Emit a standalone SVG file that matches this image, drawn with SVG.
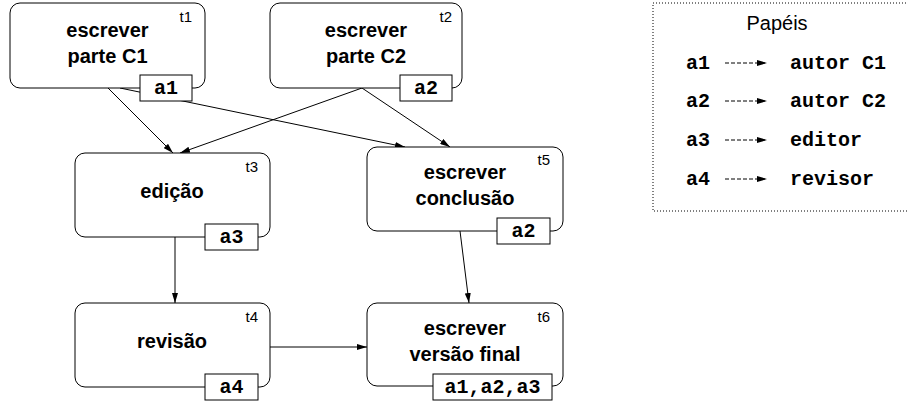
<svg xmlns="http://www.w3.org/2000/svg" width="907" height="404" viewBox="0 0 907 404">
<style>
.box{fill:#fff;stroke:#000;stroke-width:1}
.lab{fill:#fff;stroke:#000;stroke-width:1}
.t{font-family:"Liberation Sans",Arial,sans-serif;font-weight:bold;font-size:20px;text-anchor:middle;fill:#000}
.id{font-family:"Liberation Sans",Arial,sans-serif;font-size:15px;text-anchor:end;fill:#000}
.m{font-family:"Liberation Mono","Courier New",monospace;font-weight:bold;font-size:20px;text-anchor:middle;fill:#000}
.ml{font-family:"Liberation Mono","Courier New",monospace;font-weight:bold;font-size:20px;fill:#000}
.e{fill:none;stroke:#000;stroke-width:1}
.d{fill:none;stroke:#000;stroke-width:1;stroke-dasharray:4 2}
</style>
<defs>
<marker id="ah" viewBox="0 0 10 6" refX="10" refY="3" markerWidth="10" markerHeight="6" markerUnits="userSpaceOnUse" orient="auto">
<path d="M0,0 L10,3 L0,6 Z" fill="#000"/>
</marker>
<marker id="ah2" viewBox="0 0 10 6" refX="10" refY="3" markerWidth="10" markerHeight="6" markerUnits="userSpaceOnUse" orient="auto">
<path d="M0,0 L10,3 L0,6 Z" fill="#000"/>
</marker>
</defs>
<g id="connectors">
<line class="e" x1="108" y1="88" x2="173" y2="153" marker-end="url(#ah)"/>
<line class="e" x1="120" y1="88" x2="405" y2="147" marker-end="url(#ah)"/>
<line class="e" x1="362" y1="88" x2="180" y2="153" marker-end="url(#ah)"/>
<line class="e" x1="362" y1="88" x2="450" y2="147" marker-end="url(#ah)"/>
<line class="e" x1="175" y1="237" x2="175" y2="303" marker-end="url(#ah)"/>
<line class="e" x1="460" y1="231" x2="469" y2="303" marker-end="url(#ah)"/>
<line class="e" x1="270" y1="347" x2="367" y2="347" marker-end="url(#ah)"/>
</g>
<g id="t1">
<rect class="box" x="10" y="3" width="195" height="85" rx="10"/>
<text class="t" x="107.5" y="37">escrever</text>
<text class="t" x="107.5" y="63">parte C1</text>
<text class="id" x="192" y="22">t1</text>
<rect class="lab" x="140" y="75" width="52" height="26"/>
<text class="m" x="166" y="94">a1</text>
</g>
<g id="t2">
<rect class="box" x="270" y="3" width="192" height="85" rx="10"/>
<text class="t" x="366" y="37">escrever</text>
<text class="t" x="366" y="63">parte C2</text>
<text class="id" x="452" y="22">t2</text>
<rect class="lab" x="400" y="75" width="52" height="26"/>
<text class="m" x="426" y="94">a2</text>
</g>
<g id="t3">
<rect class="box" x="75" y="153" width="195" height="84" rx="10"/>
<text class="t" x="172" y="198">edição</text>
<text class="id" x="258" y="172">t3</text>
<rect class="lab" x="205" y="224" width="53" height="26"/>
<text class="m" x="231.5" y="243">a3</text>
</g>
<g id="t4">
<rect class="box" x="75" y="303" width="195" height="84" rx="10"/>
<text class="t" x="172" y="348">revisão</text>
<text class="id" x="258" y="322">t4</text>
<rect class="lab" x="205" y="374" width="53" height="26"/>
<text class="m" x="231.5" y="393">a4</text>
</g>
<g id="t5">
<rect class="box" x="367" y="147" width="196" height="84" rx="10"/>
<text class="t" x="465" y="179">escrever</text>
<text class="t" x="465" y="205">conclusão</text>
<text class="id" x="550" y="165">t5</text>
<rect class="lab" x="497" y="218" width="53" height="26"/>
<text class="m" x="523.5" y="237">a2</text>
</g>
<g id="t6">
<rect class="box" x="367" y="303" width="196" height="83" rx="10"/>
<text class="t" x="465" y="335">escrever</text>
<text class="t" x="465" y="361">versão final</text>
<text class="id" x="550" y="322">t6</text>
<rect class="lab" x="433" y="374" width="119" height="26"/>
<text class="m" x="492.5" y="393">a1,a2,a3</text>
</g>
<g id="legend">
<rect x="653" y="3" width="260" height="208" fill="none" stroke="#000" stroke-width="1" stroke-dasharray="1 2"/>
<text x="777" y="30" font-family="Liberation Sans, Arial, sans-serif" font-size="20" text-anchor="middle">Papéis</text>
<text class="ml" x="686" y="69">a1</text>
<line class="d" x1="725" y1="63" x2="767" y2="63" marker-end="url(#ah2)"/>
<text class="ml" x="790" y="69">autor C1</text>
<text class="ml" x="686" y="107">a2</text>
<line class="d" x1="725" y1="101" x2="767" y2="101" marker-end="url(#ah2)"/>
<text class="ml" x="790" y="107">autor C2</text>
<text class="ml" x="686" y="146">a3</text>
<line class="d" x1="725" y1="140" x2="767" y2="140" marker-end="url(#ah2)"/>
<text class="ml" x="790" y="146">editor</text>
<text class="ml" x="686" y="185">a4</text>
<line class="d" x1="725" y1="179" x2="767" y2="179" marker-end="url(#ah2)"/>
<text class="ml" x="790" y="185">revisor</text>
</g>
</svg>
